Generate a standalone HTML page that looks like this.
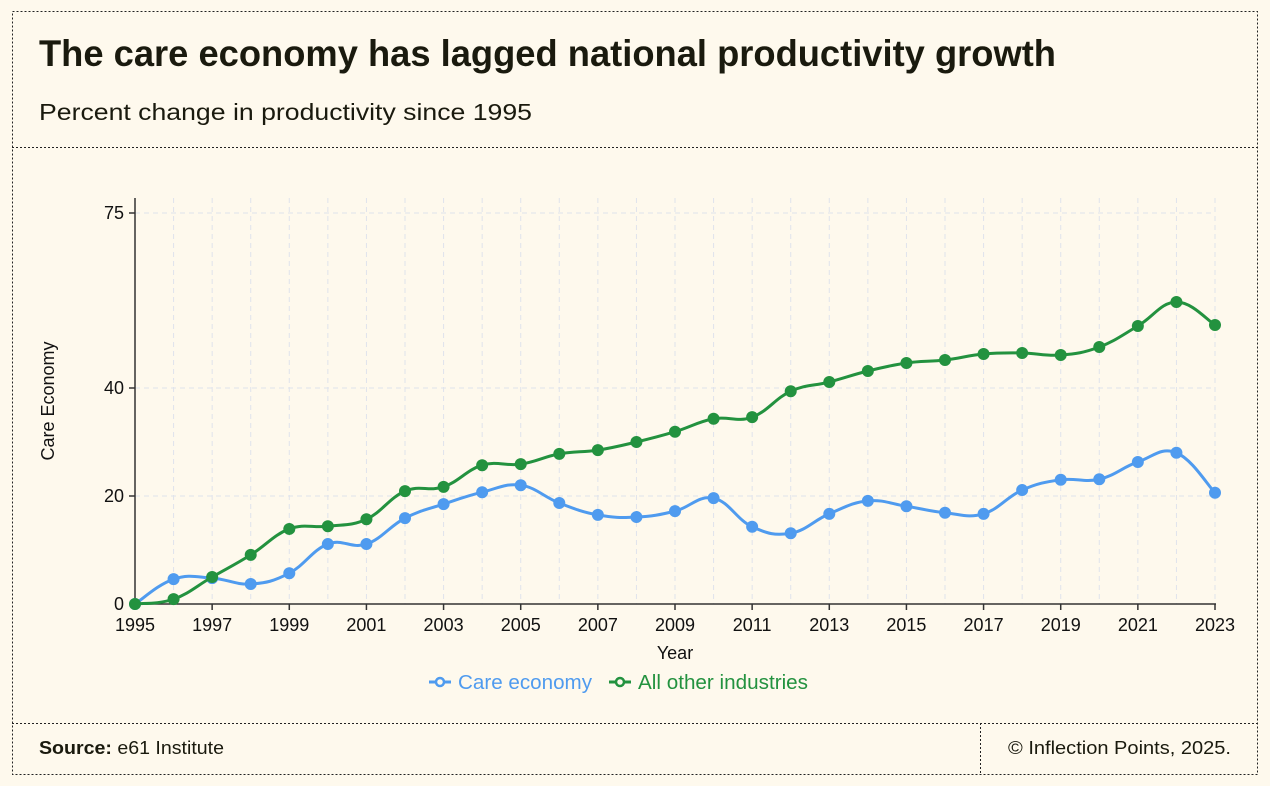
<!DOCTYPE html>
<html><head><meta charset="utf-8"><style>
html,body{margin:0;padding:0;background:#fef9ed;}
svg{display:block;font-family:"Liberation Sans",sans-serif;}
</style></head><body>
<svg width="1270" height="786" viewBox="0 0 1270 786" xmlns="http://www.w3.org/2000/svg">
<rect x="0" y="0" width="1270" height="786" fill="#fef9ed"/>
<rect x="12.5" y="11.5" width="1245" height="763" fill="none" stroke="#222" stroke-width="1" stroke-dasharray="2,2"/>
<line x1="12" y1="147.5" x2="1258" y2="147.5" stroke="#222" stroke-dasharray="2,2"/>
<line x1="12" y1="723.5" x2="1258" y2="723.5" stroke="#222" stroke-dasharray="2,2"/>
<line x1="980.5" y1="723" x2="980.5" y2="775" stroke="#222" stroke-dasharray="2,2"/>
<text x="39" y="66" font-size="37" font-weight="bold" fill="#1a1a0e" textLength="1017" lengthAdjust="spacingAndGlyphs">The care economy has lagged national productivity growth</text>
<text x="39" y="120" font-size="23" fill="#1a1a0e" textLength="493" lengthAdjust="spacingAndGlyphs">Percent change in productivity since 1995</text>
<text x="39" y="754" font-size="18" fill="#1a1a0e" textLength="185" lengthAdjust="spacingAndGlyphs"><tspan font-weight="bold">Source:</tspan> e61 Institute</text>
<text x="1008" y="754" font-size="18" fill="#1a1a0e" textLength="223" lengthAdjust="spacingAndGlyphs">© Inflection Points, 2025.</text>
<g id="grid"></g>
<g id="axes"></g>
<g id="series"></g>
<text x="675" y="659" font-size="18" text-anchor="middle" fill="#111">Year</text>
<text transform="translate(54,401) rotate(-90)" font-size="18" text-anchor="middle" fill="#111">Care Economy</text>
<g>
<line x1="429" y1="682" x2="451" y2="682" stroke="#4f9bef" stroke-width="3"/><circle cx="440" cy="682" r="4" fill="#fef9ed" stroke="#4f9bef" stroke-width="2.5"/>
<text x="458" y="689" font-size="20" fill="#4f9bef" textLength="134" lengthAdjust="spacingAndGlyphs">Care economy</text></g>
<g>
<line x1="609" y1="682" x2="631" y2="682" stroke="#23923f" stroke-width="3"/><circle cx="620" cy="682" r="4" fill="#fef9ed" stroke="#23923f" stroke-width="2.5"/>
<text x="638" y="689" font-size="20" fill="#23923f" textLength="170" lengthAdjust="spacingAndGlyphs">All other industries</text></g>
</svg>
<script>
const years = [1995,1996,1997,1998,1999,2000,2001,2002,2003,2004,2005,2006,2007,2008,2009,2010,2011,2012,2013,2014,2015,2016,2017,2018,2019,2020,2021,2022,2023];
const careEconomy = [0,4.6,4.8,3.7,5.7,11.1,11.1,15.9,18.5,20.7,22.0,18.7,16.5,16.1,17.2,19.6,14.3,13.1,16.7,19.1,18.1,16.9,16.7,21.1,23.0,23.1,26.3,28.0,20.6];
const otherIndustries = [0,0.9,5.0,9.1,13.9,14.4,15.7,20.9,21.7,25.7,25.9,27.8,28.5,30.0,31.9,34.3,34.6,39.4,41.2,43.4,45.0,45.6,46.8,47.0,46.6,48.2,52.4,57.2,52.6];
const yTicks = [0,20,40,75];
const xTickLabels = [1995,1997,1999,2001,2003,2005,2007,2009,2011,2013,2015,2017,2019,2021,2023];

const NS='http://www.w3.org/2000/svg';
const x0=135,x1=1215;
const yDom=[0,20,40,75], yRng=[604,496,388,213];
function xs(v){return x0+(v-years[0])/(years[years.length-1]-years[0])*(x1-x0);}
function ys(v){for(let i=0;i<yDom.length-1;i++){if(v<=yDom[i+1]||i===yDom.length-2){return yRng[i]+(v-yDom[i])/(yDom[i+1]-yDom[i])*(yRng[i+1]-yRng[i]);}}}
function mk(tag,attrs,parent){const e=document.createElementNS(NS,tag);for(const k in attrs)e.setAttribute(k,attrs[k]);parent.appendChild(e);return e;}
const grid=document.getElementById('grid'),axes=document.getElementById('axes'),series=document.getElementById('series');
years.forEach(y=>{if(y===years[0])return;
 const l=mk('line',{x1:xs(y),x2:xs(y),y1:198,y2:604,stroke:'#dfe3ec','stroke-width':1,'stroke-dasharray':'5,4'},grid);
 
 });
yTicks.forEach(t=>{if(t===0)return;
 const l=mk('line',{x1:x0,x2:x1,y1:ys(t),y2:ys(t),stroke:'#dfe3ec','stroke-width':1,'stroke-dasharray':'5,4'},grid);
 
 });
mk('line',{x1:x0,x2:x0,y1:198,y2:605,stroke:'#333','stroke-width':1.5},axes);
mk('line',{x1:x0,x2:x1+1,y1:604,y2:604,stroke:'#333','stroke-width':1.5},axes);
yTicks.forEach(t=>{
 mk('line',{x1:x0-6,x2:x0,y1:ys(t),y2:ys(t),stroke:'#333','stroke-width':1.5},axes);
 const tx=mk('text',{x:x0-11,y:ys(t)+6,'font-size':18,'text-anchor':'end',fill:'#111'},axes);
 tx.textContent=t;
 
 });
xTickLabels.forEach(t=>{
 mk('line',{x1:xs(t),x2:xs(t),y1:604,y2:610,stroke:'#333','stroke-width':1.5},axes);
 const tx=mk('text',{x:xs(t),y:631,'font-size':18,'text-anchor':'middle',fill:'#111'},axes);
 tx.textContent=t;
 
 });
function smoothPath(pts){let d='M'+pts[0][0]+','+pts[0][1];
 for(let i=0;i<pts.length-1;i++){const p0=pts[i-1]||pts[i],p1=pts[i],p2=pts[i+1],p3=pts[i+2]||p2;
  const t=0.2;
  d+=' C'+(p1[0]+(p2[0]-p0[0])*t)+','+(p1[1]+(p2[1]-p0[1])*t)+' '+(p2[0]-(p3[0]-p1[0])*t)+','+(p2[1]-(p3[1]-p1[1])*t)+' '+p2[0]+','+p2[1];}
 return d;}
function drawSeries(vals,color,name){
 const pts=years.map((y,i)=>[xs(y),ys(vals[i])]);
 const p=mk('path',{d:smoothPath(pts),fill:'none',stroke:color,'stroke-width':3},series);
 
 
 pts.forEach(pt=>{const c=mk('circle',{cx:pt[0],cy:pt[1],r:6,fill:color},series);
  
  });}
drawSeries(careEconomy,'#4f9bef','care-economy');
drawSeries(otherIndustries,'#23923f','other-industries');
</script>
</body></html>
